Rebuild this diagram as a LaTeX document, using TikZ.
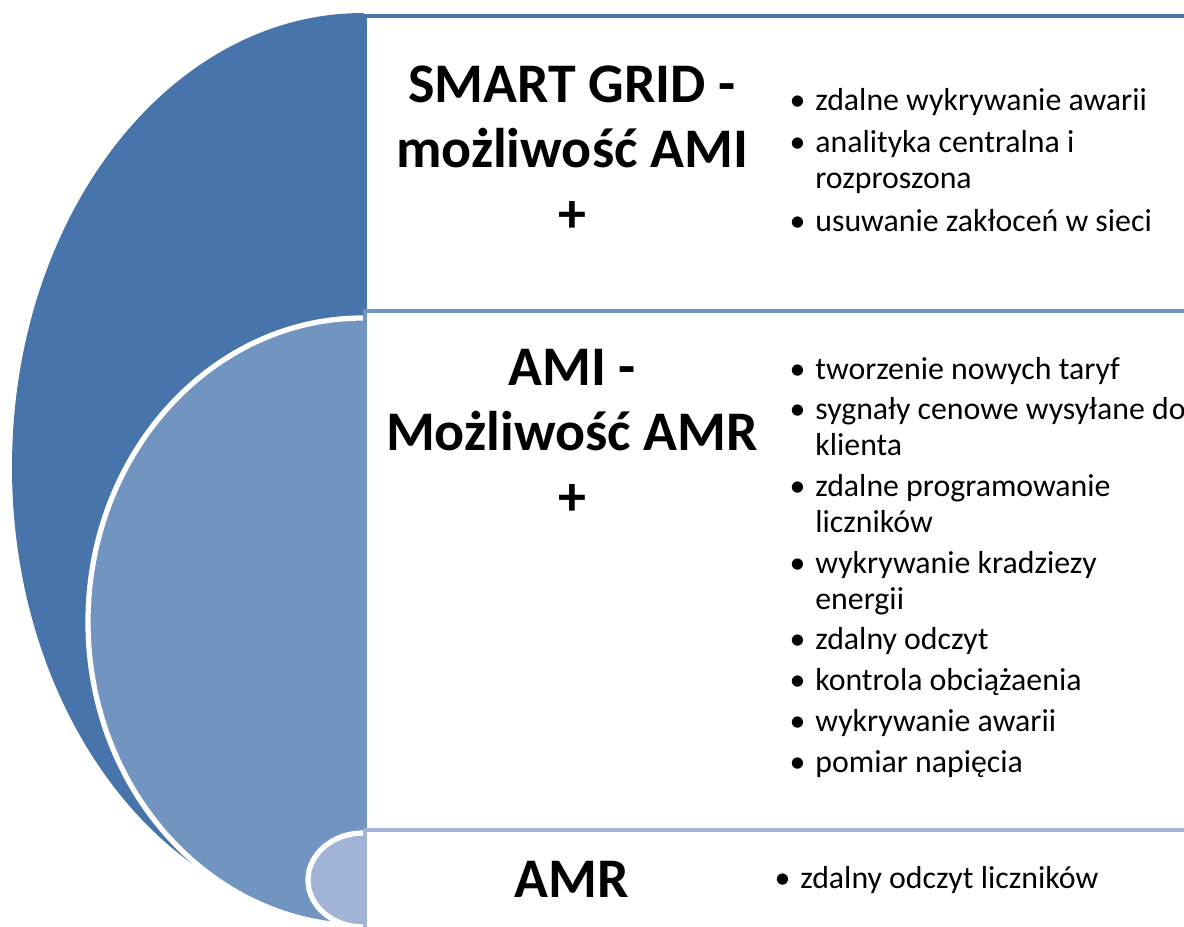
\documentclass[tikz,border=0pt]{standalone}
\usepackage{fontspec}
\setmainfont{Carlito}
\usepackage{xcolor}
\usetikzlibrary{positioning}
\definecolor{gridblue}{RGB}{71,116,170}
\definecolor{amiblue}{RGB}{114,148,193}
\definecolor{amrblue}{RGB}{162,180,214}
\newcommand{\itm}{\makebox[7.3pt][l]{\textbullet}}
\newcommand{\nxt}{\makebox[7.3pt]{}}

\begin{document}
\begin{tikzpicture}[x=0.01cm, y=-0.01cm,
    title/.style={anchor=base, inner sep=0pt, font=\fontsize{15.9}{18.5}\selectfont\bfseries},
    items/.style={anchor=base west, inner sep=0pt, font=\fontsize{9.05}{10.2}\selectfont},
    box/.style={line width=1.3pt, fill=white}]
	\useasboundingbox (0,0) rectangle (1184,926);
	\clip (0,0) rectangle (1184,926);
	% half ellipses on the left
	\begin{scope}
		\clip (0,0) rectangle (364,926);
		\fill[gridblue] (363,467) ellipse [x radius=351, y radius=454];
		\filldraw[amiblue, draw=white, line width=1.5pt] (363,622) ellipse [x radius=275, y radius=304];
		\filldraw[amrblue, draw=white, line width=1.5pt] (363,880) ellipse [x radius=55, y radius=47];
	\end{scope}
	% boxes
	\draw[box, draw=gridblue] (365,16) rectangle (1220,311);
	\draw[box, draw=amiblue] (365,311) rectangle (1220,830);
	\draw[box, draw=amrblue] (365,830) rectangle (1220,960);
	% titles
	\node[title] (smartgrid) at (572,102) {\begin{tabular}[t]{@{}c@{}}SMART GRID -\\możliwość AMI\\+\end{tabular}};
	\node[title] (ami) at (572,385) {\begin{tabular}[t]{@{}c@{}}AMI -\\Możliwość AMR\\+\end{tabular}};
	\node[title] (amr) at (572,897) {AMR};
	% lists
	\node[items] (smartgridlist) at (789,110) {\begin{tabular}[t]{@{}l@{}}
		\itm zdalne wykrywanie awarii\\[2pt]
		\itm analityka centralna i\\
		\nxt rozproszona\\[2pt]
		\itm usuwanie zakłoceń w sieci
	\end{tabular}};
	\node[items] (amilist) at (789,379) {\begin{tabular}[t]{@{}l@{}}
		\itm tworzenie nowych taryf\\[1.4pt]
		\itm sygnały cenowe wysyłane do\\
		\nxt klienta\\[1.4pt]
		\itm zdalne programowanie\\
		\nxt liczników\\[1.4pt]
		\itm wykrywanie kradziezy\\
		\nxt energii\\[1.4pt]
		\itm zdalny odczyt\\[1.4pt]
		\itm kontrola obciążaenia\\[1.4pt]
		\itm wykrywanie awarii\\[1.4pt]
		\itm pomiar napięcia
	\end{tabular}};
	\node[items] (amrlist) at (774,888) {\itm zdalny odczyt liczników};
\end{tikzpicture}
\end{document}
